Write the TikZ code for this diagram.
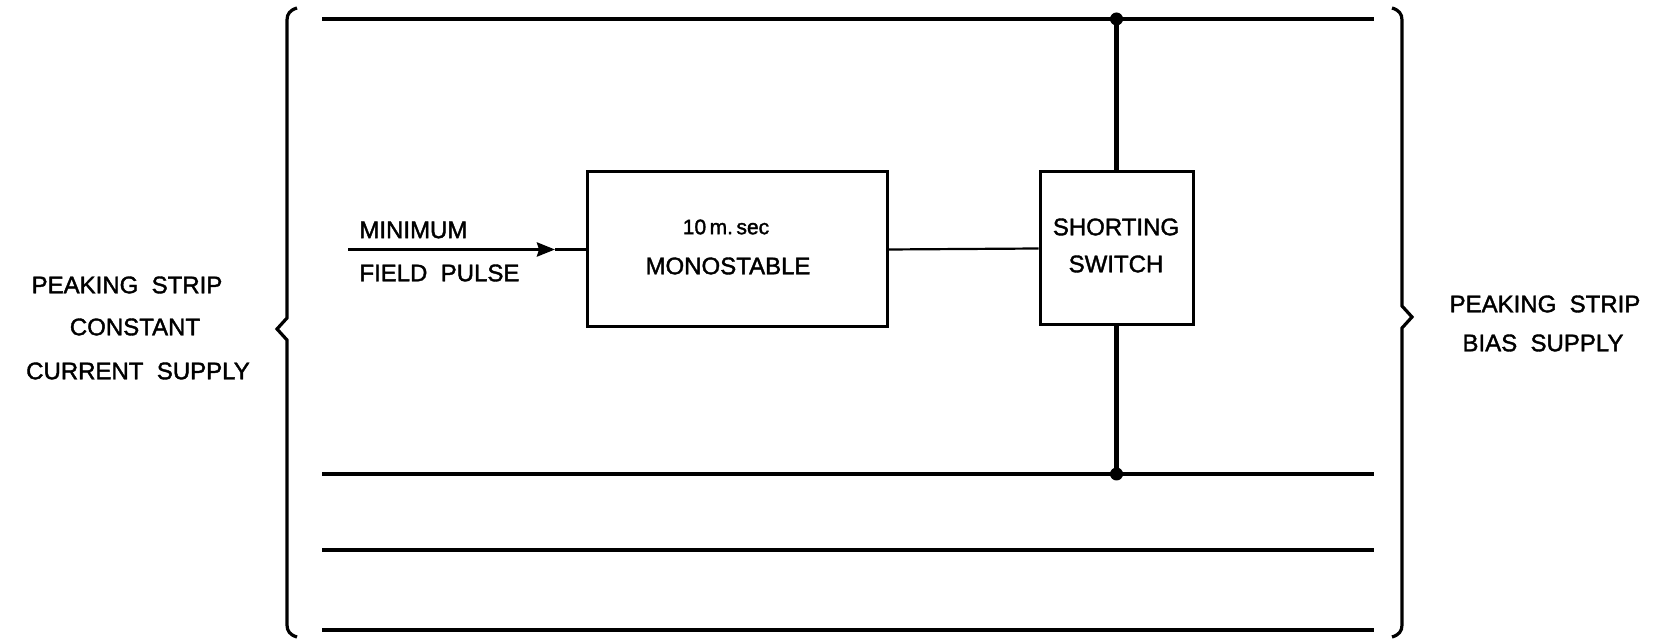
\documentclass[tikz,border=0pt]{standalone}
\usepackage{fontspec}
\setmainfont{Liberation Sans}
\newfontfamily\heavyfont[FakeBold=1.6]{Liberation Sans}
\usetikzlibrary{arrows.meta}
\begin{document}
\begin{tikzpicture}[x=0.5pt,y=-0.5pt,
  wire/.style={line width=1.6pt},
  vwire/.style={line width=2.4pt},
  thinwire/.style={line width=1.1pt},
  box/.style={draw,line width=1.5pt,inner sep=0pt},
  lbl/.style={font=\heavyfont\fontsize{12}{14}\selectfont,inner sep=0pt},
  small/.style={font=\heavyfont\fontsize{10.5}{12}\selectfont,inner sep=0pt},
  dot/.style={circle,fill,inner sep=0pt,minimum size=6.5pt}]
\useasboundingbox (0,0) rectangle (1655,640);
% boxes
\node[box,minimum width=150pt,minimum height=77.5pt] (mono) at (737,249.5) {};
\node[box,minimum width=76.5pt,minimum height=76.5pt] (sw) at (1116.5,248.5) {};
% box texts
\node[small] (t10) at (726,227) {10\,m.\,sec};
\node[lbl] (tmono) at (728,266) {MONOSTABLE};
\node[lbl] (tshort) at (1116,227) {SHORTING};
\node[lbl] (tswitch) at (1116,264) {SWITCH};
% rails
\coordinate (r1a) at (322,19);  \coordinate (r1b) at (1374,19);
\coordinate (r2a) at (322,474); \coordinate (r2b) at (1374,474);
\coordinate (r3a) at (322,550); \coordinate (r3b) at (1374,550);
\coordinate (r4a) at (322,630); \coordinate (r4b) at (1374,630);
\draw[wire] (r1a) -- (r1b);
\draw[wire] (r2a) -- (r2b);
\draw[wire] (r3a) -- (r3b);
\draw[wire] (r4a) -- (r4b);
% junctions
\node[dot] (jt) at (1116.5,19) {};
\node[dot] (jb) at (1116.5,474) {};
\draw[vwire] (jt.center) -- (sw.north);
\draw[vwire] (sw.south) -- (jb.center);
% mono to switch
\draw[thinwire] (mono.east) -- (sw.west);
% input
\coordinate (in) at (348,249.5);
\coordinate (ah) at (555,249.5);
\draw[wire,-{Stealth[length=9pt,width=7pt,inset=1pt]}] (in) -- (ah);
\draw[wire] (ah) -- (mono.west);
\node[lbl,anchor=west] (tmin) at (359,230) {MINIMUM};
\node[lbl,anchor=west] (tfield) at (359,273) {FIELD\ \ PULSE};
% braces
\draw[wire] (297,8) .. controls (290,10) and (287,14) .. (287,20) -- (287,318) -- (277,329) -- (287,340) -- (287,625) .. controls (287,631) and (290,635) .. (297,637);
\draw[wire] (1392,8) .. controls (1399,10) and (1402,14) .. (1402,20) -- (1402,306) -- (1412,317) -- (1402,328) -- (1402,625) .. controls (1402,631) and (1399,635) .. (1392,637);
% side labels
\node[lbl] (lp) at (127,285) {PEAKING\ \ STRIP};
\node[lbl] (lc) at (135,327) {CONSTANT};
\node[lbl] (lcs) at (138,371) {CURRENT\ \ SUPPLY};
\node[lbl] (rp) at (1545,304) {PEAKING\ \ STRIP};
\node[lbl] (rb) at (1543,343) {BIAS\ \ SUPPLY};
\end{tikzpicture}
\end{document}
